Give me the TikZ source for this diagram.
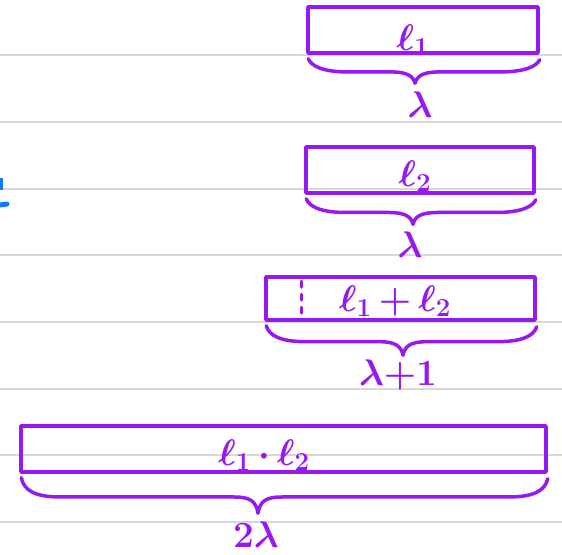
\RequirePackage{fix-cm}
\documentclass[tikz,border=0pt]{standalone}
\usetikzlibrary{calc}
\definecolor{pen}{RGB}{150,25,240}
\definecolor{rulegray}{RGB}{215,215,215}
\definecolor{bluepen}{RGB}{20,120,255}
\tikzset{
  box/.style={draw=pen, line width=3.5pt, line join=round, inner sep=0pt},
  lab/.style={text=pen, font=\fontsize{37}{40}\selectfont\boldmath, inner sep=0pt},
  brc/.style={draw=pen, line width=3.5pt, line cap=round, line join=round},
  ruleline/.style={draw=rulegray, line width=1.3pt},
}
\newcommand{\handbrace}[3]{% node, tip x, depth
  \draw[brc] let \p1=($(#1.south west)+(2,-4)$), \p2=($(#1.south east)+(0,-5)$),
    \n1={#2*1pt}, \n2={0.5*(\y1+\y2)-#3*1pt}, \n3={\y1-0.55*#3*1pt} in
    (\p1) .. controls (\x1+3pt,\n3+6pt) and (\x1+14pt,\n3) .. (\x1+40pt,\n3)
    -- (\n1-24pt,\n3)
    .. controls (\n1-8pt,\n3) and (\n1-2pt,\n3-4pt) .. (\n1,\n2)
    .. controls (\n1+2pt,\n3-4pt) and (\n1+8pt,\n3) .. (\n1+24pt,\n3)
    -- (\x2-40pt,\n3)
    .. controls (\x2-14pt,\n3) and (\x2-3pt,\n3+6pt) .. (\p2);
}
\begin{document}
\begin{tikzpicture}[x=1pt,y=1pt]
\useasboundingbox (0,0) rectangle (562,554);
% ruled lines
\foreach \yy in {499,432,365,299,232,165,99,32}
  \draw[ruleline] (0,\yy) -- (562,\yy);
% blue mark at left edge
\draw[bluepen, line width=3pt] (1,376) -- (1,364);
\draw[bluepen, line width=5pt, line cap=round] (0,349) -- (7,350);
% boxes
\node[box, minimum width=230pt, minimum height=46pt] (b1) at (423,524) {};
\node[box, minimum width=228pt, minimum height=46pt] (b2) at (420,384) {};
\node[box, minimum width=269pt, minimum height=43pt] (b3) at (400.5,255.5) {};
\node[box, minimum width=525pt, minimum height=46pt] (b4) at (283.5,105) {};
% dotted divider in box 3
\draw[pen, line width=3pt, line cap=round, dash pattern=on 6pt off 7pt]
  ($(b3.north west)+(37,-6)$) -- ($(b3.south west)+(37,5)$);
% labels in boxes
\node[lab] (t1) at (413,514) {$\ell_1$};
\node[lab] (t2) at (415,378) {$\ell_2$};
\node[lab] (t3) at (395,253) {$\ell_1\,{+}\,\ell_2$};
\node[lab] (t4) at (264,99) {$\ell_1\,{\cdot}\,\ell_2$};
% braces
\handbrace{b1}{415}{24}
\handbrace{b2}{413}{25}
\handbrace{b3}{403}{29}
\handbrace{b4}{258}{35}
% brace labels
\node[lab] (s1) at (420,449) {$\lambda$};
\node[lab] (s2) at (410,309) {$\lambda$};
\node[lab] (s3) at (398,179) {$\lambda{+}1$};
\node[lab] (s4) at (256,19) {$2\lambda$};
\end{tikzpicture}
\end{document}
